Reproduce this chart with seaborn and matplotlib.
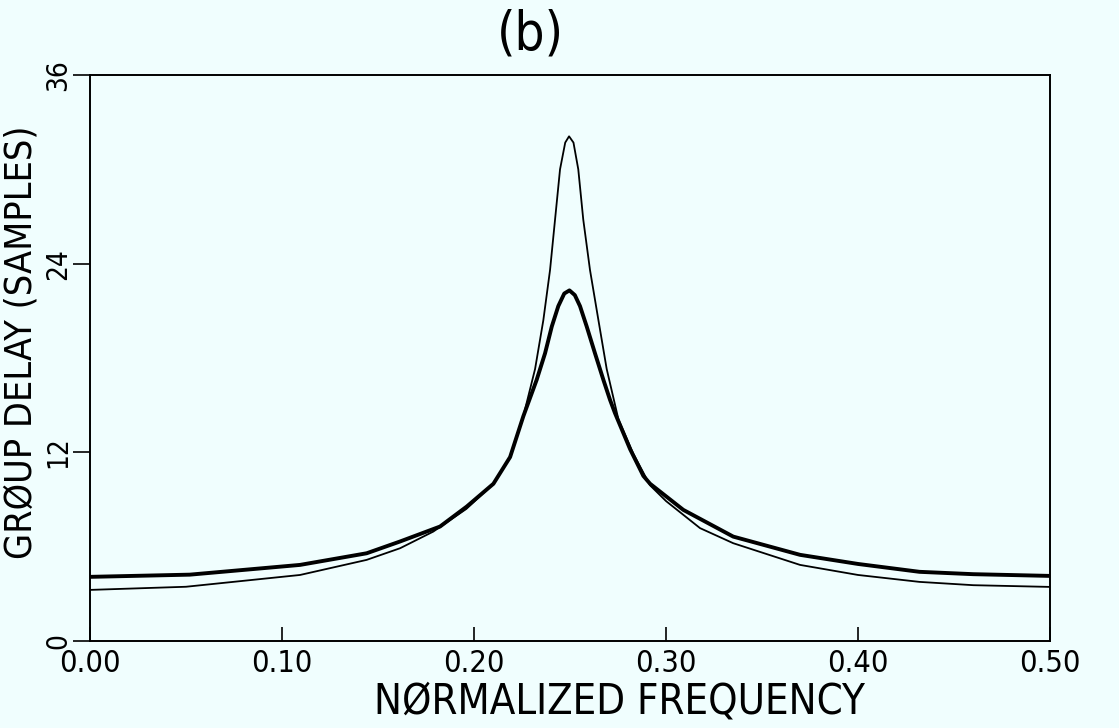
import matplotlib
matplotlib.use("Agg")
import matplotlib.pyplot as plt
import seaborn as sns
import pandas as pd

# Thin curve (sharp peak)
thin_freq = [0.000, 0.050, 0.1094, 0.1441, 0.1615, 0.1788, 0.196, 0.2101, 0.2188, 0.2257,
             0.2318, 0.2361, 0.2396, 0.2422, 0.2448, 0.2475, 0.2495, 0.2518, 0.2543, 0.2569,
             0.2604, 0.2648, 0.2691, 0.2752, 0.2830, 0.2917, 0.3000, 0.3177, 0.335, 0.3698,
             0.400, 0.432, 0.460, 0.500]
thin_delay = [3.25, 3.45, 4.2, 5.16, 5.9, 6.96, 8.4, 10.0, 11.7, 14.3,
              17.3, 20.4, 23.6, 26.8, 30.0, 31.7, 32.1, 31.7, 30.0, 26.8,
              23.6, 20.4, 17.3, 14.1, 11.9, 9.9, 8.9, 7.18, 6.22, 4.84,
              4.2, 3.76, 3.55, 3.44]

# Thick curve (broad peak)
thick_freq = [0.000, 0.052, 0.1094, 0.1441, 0.1615, 0.1823, 0.1962, 0.2101, 0.2188, 0.2257,
              0.2326, 0.2370, 0.2405, 0.2439, 0.2470, 0.2497, 0.2525, 0.2552, 0.2587, 0.2630,
              0.2674, 0.2708, 0.2734, 0.2813, 0.2882, 0.2917, 0.309, 0.335, 0.3698, 0.400,
              0.432, 0.460, 0.500]
thick_delay = [4.08, 4.22, 4.84, 5.58, 6.33, 7.28, 8.55, 10.0, 11.7, 14.3,
               16.6, 18.3, 20.0, 21.3, 22.1, 22.3, 22.0, 21.3, 20.0, 18.3,
               16.6, 15.35, 14.5, 12.2, 10.5, 10.0, 8.34, 6.64, 5.48, 4.9,
               4.4, 4.25, 4.14]

x_ticks = [0.0, 0.1, 0.2, 0.3, 0.4, 0.5]
x_tick_labels = ["0.00", "0.10", "0.20", "0.30", "0.40", "0.50"]
y_ticks = [0, 12, 24, 36]
y_tick_labels = ["0", "12", "24", "36"]

sns.set_theme(style="ticks")
bg = "#f0fefe"
plt.rcParams["font.family"] = ["DejaVu Sans"]
plt.rcParams["font.stretch"] = "condensed"
plt.rcParams["text.color"] = "black"
plt.rcParams["axes.labelcolor"] = "black"
plt.rcParams["xtick.color"] = "black"
plt.rcParams["ytick.color"] = "black"

fig = plt.figure(figsize=(11.19, 7.28), dpi=100, facecolor=bg)
ax = fig.add_axes([0.0804, 0.1195, 0.858, 0.7775])
ax.set_facecolor(bg)

df_thin = pd.DataFrame({"f": thin_freq, "d": thin_delay})
df_thick = pd.DataFrame({"f": thick_freq, "d": thick_delay})
sns.lineplot(data=df_thin, x="f", y="d", ax=ax, color="black", lw=1.3,
             solid_joinstyle="round")
sns.lineplot(data=df_thick, x="f", y="d", ax=ax, color="black", lw=2.8,
             solid_joinstyle="round")

ax.set_xlim(0, 0.5)
ax.set_ylim(0, 36)
ax.set_xticks(x_ticks)
ax.set_xticklabels(x_tick_labels, fontsize=22)
ax.set_yticks(y_ticks)
ax.set_yticklabels(y_tick_labels, fontsize=20, rotation=90, va="center")
ax.tick_params(axis="x", direction="in", length=10, width=1.2, pad=6)
ax.tick_params(axis="y", direction="out", length=12, width=1.2, pad=1)
for s in ax.spines.values():
    s.set_color("black")
    s.set_linewidth(1.4)

ax.set_xlabel("")
ax.set_ylabel("")
fig.text(0.554, 0.037, "NØRMALIZED FREQUENCY", fontsize=30, ha="center", va="center")
fig.text(0.019, 0.530, "GRØUP DELAY (SAMPLES)", fontsize=27, rotation=90,
         ha="center", va="center")
fig.text(0.474, 0.952, "(b)", fontsize=38, ha="center", va="center")

fig.savefig("out.png", dpi=100, facecolor=bg)
